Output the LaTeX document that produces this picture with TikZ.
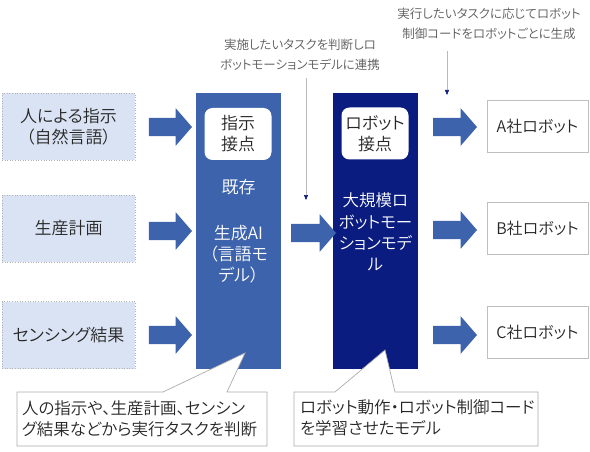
\documentclass[tikz,border=0pt]{standalone}
\usepackage{fontspec}
\setmainfont{Noto Sans CJK JP DemiLight}[RawFeature={+palt}]
\usetikzlibrary{shapes.arrows,arrows.meta}
\definecolor{midblue}{HTML}{3D63AD}
\definecolor{navyc}{HTML}{0A1C80}
\definecolor{lightblue}{HTML}{DAE3F3}
\definecolor{annogray}{HTML}{595959}
\definecolor{textc}{HTML}{262626}
\begin{document}
\begin{tikzpicture}[x=1pt,y=-1pt,
  every node/.style={inner sep=0pt, text=textc},
  leftbox/.style={draw=gray!60, dotted, line width=0.6pt, fill=lightblue, minimum width=133pt, minimum height=67pt, align=center, font=\fontsize{17}{21}\selectfont},
  rightbox/.style={draw=gray!50, line width=0.8pt, fill=white, minimum width=101pt, minimum height=52pt, font=\fontsize{16}{20}\selectfont},
  column/.style={minimum width=85pt, minimum height=276pt},
  innerbox/.style={fill=white, rounded corners=8pt, minimum width=67pt, minimum height=52pt, align=center, font=\fontsize{17}{21}\selectfont},
  coltext/.style={text=white, align=center, font=\fontsize{17}{21}\selectfont},
  barrow/.style={single arrow, fill=midblue, inner xsep=0pt, inner ysep=9pt, text height=0pt, text depth=0pt, single arrow head extend=9.5pt, single arrow tip angle=98, minimum width=37pt},
  anno/.style={text=annogray, align=center, font=\fontsize{12.5}{20}\selectfont},
  annline/.style={draw=gray!55, line width=0.6pt, -{Triangle[length=5pt,width=4pt,color=navyc]}},
  callout/.style={draw=gray!65, line width=0.7pt, fill=white},
  callouttext/.style={align=left, text width=244pt, font=\fontsize{16.5}{21}\selectfont}
]
\useasboundingbox (0,0) rectangle (590,452);

% left inputs
\node[leftbox] (in1) at (68.5,126.5) {人による指示\\（自然言語）};
\node[leftbox] (in2) at (68.5,228.5) {生産計画};
\node[leftbox] (in3) at (68.5,335) {センシング結果};

% columns
\node[column, fill=midblue] (col1) at (238.5,231) {};
\node[column, fill=navyc] (col2) at (375.5,231) {};
\node[innerbox] (ib1) at (238,134) {指示\\接点};
\node[innerbox] (ib2) at (375,133.5) {ロボット\\接点};
\node[coltext] (exist) at (238.5,187) {既存};
\node[coltext] (genai) at (238.5,254) {生成AI\\（言語モ\\デル）};
\node[coltext, font=\fontsize{16.5}{21.5}\selectfont] (lrm) at (375.5,232) {大規模ロ\\ボットモー\\ションモデ\\ル};

% right outputs
\node[rightbox] (outA) at (537.5,126.5) {A社ロボット};
\node[rightbox] (outB) at (537.5,228.5) {B社ロボット};
\node[rightbox] (outC) at (537.5,332.5) {C社ロボット};

% block arrows
\node[barrow, minimum height=43pt] (la1) at (166.5,127) {};
\node[barrow, minimum height=43pt] (la2) at (166.5,231) {};
\node[barrow, minimum height=43pt] (la3) at (166.5,335) {};
\node[barrow, minimum height=45pt] (ma) at (309.5,233) {};
\node[barrow, minimum height=44pt] (ra1) at (451,127) {};
\node[barrow, minimum height=44pt] (ra2) at (451,230) {};
\node[barrow, minimum height=44pt] (ra3) at (451,335) {};

% annotations
\node[anno] (ann1) at (300,55) {実施したいタスクを判断しロ\\ボットモーションモデルに連携};
\coordinate (t1) at (306,200);
\draw[annline, shorten <=7pt] (ann1.south -| t1) -- (t1);
\node[anno] (ann2) at (489,24) {実行したいタスクに応じてロボット\\制御コードをロボットごとに生成};
\coordinate (t2) at (447,95);
\draw[annline, shorten <=11pt] (ann2.south -| t2) -- (t2);

% callouts
\coordinate (tip1) at (245,353);
\path[callout] (17,392) -- (163,392) -- (tip1) -- (227,392) -- (267,392) -- (267,446) -- (17,446) -- cycle;
\node[callouttext] (c1) at (144,418.5) {人の指示や、生産計画、センシン\\グ結果などから実行タスクを判断};
\coordinate (tip2) at (385,350);
\path[callout] (294,392) -- (335,392) -- (tip2) -- (395,392) -- (538,392) -- (538,446) -- (294,446) -- cycle;
\node[callouttext] (c2) at (422,418) {ロボット動作・ロボット制御コード\\を学習させたモデル};
\end{tikzpicture}
\end{document}
